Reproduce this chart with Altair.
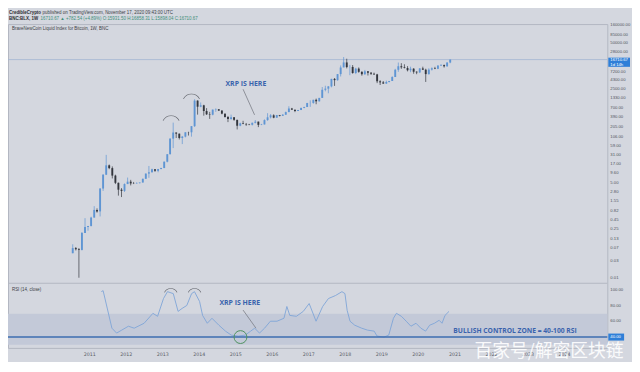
import altair as alt
import pandas as pd

# ---------------- data ----------------
months = [
    "2010-07", "2010-08", "2010-09", "2010-10", "2010-11", "2010-12",
    "2011-01", "2011-02", "2011-03", "2011-04", "2011-05", "2011-06", "2011-07", "2011-08", "2011-09", "2011-10", "2011-11", "2011-12",
    "2012-01", "2012-02", "2012-03", "2012-04", "2012-05", "2012-06", "2012-07", "2012-08", "2012-09", "2012-10", "2012-11", "2012-12",
    "2013-01", "2013-02", "2013-03", "2013-04", "2013-05", "2013-06", "2013-07", "2013-08", "2013-09", "2013-10", "2013-11", "2013-12",
    "2014-01", "2014-02", "2014-03", "2014-04", "2014-05", "2014-06", "2014-07", "2014-08", "2014-09", "2014-10", "2014-11", "2014-12",
    "2015-01", "2015-02", "2015-03", "2015-04", "2015-05", "2015-06", "2015-07", "2015-08", "2015-09", "2015-10", "2015-11", "2015-12",
    "2016-01", "2016-02", "2016-03", "2016-04", "2016-05", "2016-06", "2016-07", "2016-08", "2016-09", "2016-10", "2016-11", "2016-12",
    "2017-01", "2017-02", "2017-03", "2017-04", "2017-05", "2017-06", "2017-07", "2017-08", "2017-09", "2017-10", "2017-11", "2017-12",
    "2018-01", "2018-02", "2018-03", "2018-04", "2018-05", "2018-06", "2018-07", "2018-08", "2018-09", "2018-10", "2018-11", "2018-12",
    "2019-01", "2019-02", "2019-03", "2019-04", "2019-05", "2019-06", "2019-07", "2019-08", "2019-09", "2019-10", "2019-11", "2019-12",
    "2020-01", "2020-02", "2020-03", "2020-04", "2020-05", "2020-06", "2020-07", "2020-08", "2020-09", "2020-10", "2020-11",
]
opens = [
    0.05, 0.07, 0.065, 0.062, 0.19, 0.28,
    0.30, 0.52, 0.86, 0.78, 3.5, 8.7, 16.1, 13.4, 8.2, 5.1, 3.25, 3.0,
    4.7, 5.5, 4.9, 4.9, 5.0, 5.2, 6.65, 9.35, 10.2, 12.4, 11.2, 12.6,
    13.5, 20.4, 33.4, 93, 139, 129, 97, 106, 141, 141, 211, 1130,
    757, 830, 570, 460, 447, 625, 640, 587, 480, 387, 338, 378,
    320, 217, 254, 244, 236, 230, 263, 284, 230, 236, 314, 377,
    430, 368, 437, 416, 448, 531, 673, 624, 574, 609, 700, 742,
    963, 970, 1190, 1080, 1350, 2300, 2480, 2875, 4700, 4340, 6450, 9950,
    13860, 10220, 10330, 6930, 9240, 7490, 6390, 7730, 7030, 6620, 6320, 4020,
    3740, 3460, 3850, 4100, 5320, 8570, 10820, 10080, 9600, 8300, 9200, 7550,
    7200, 9350, 8600, 6440, 8650, 9460, 9140, 11330, 11650, 10780, 13800,
]
highs = [
    0.09, 0.075, 0.07, 0.20, 0.50, 0.30,
    0.55, 1.10, 0.95, 3.6, 9.0, 32.0, 17.0, 15.0, 8.7, 5.2, 3.6, 4.9,
    7.2, 6.2, 5.4, 5.3, 5.2, 6.7, 9.4, 15.4, 12.9, 12.5, 12.7, 13.7,
    20.8, 33.4, 95, 266, 139, 129, 111, 141, 146, 211, 1240, 1150,
    1000, 860, 690, 540, 630, 680, 650, 600, 490, 412, 450, 385,
    320, 265, 300, 260, 245, 267, 316, 284, 245, 330, 495, 465,
    460, 440, 440, 466, 550, 780, 700, 626, 613, 720, 755, 975,
    1150, 1200, 1290, 1350, 2760, 3000, 2930, 4750, 4980, 6450, 11400, 19800,
    17700, 11800, 11700, 9750, 9990, 7760, 8470, 7760, 7400, 7100, 6560, 4310,
    4100, 4200, 4120, 5600, 9100, 13800, 13200, 12300, 10900, 10500, 9500, 7750,
    9600, 10500, 9180, 9450, 10050, 10400, 11450, 12470, 12100, 14000, 16860,
]
lows = [
    0.05, 0.06, 0.01, 0.06, 0.19, 0.22,
    0.29, 0.52, 0.72, 0.56, 3.0, 8.5, 12.5, 6.8, 4.7, 2.2, 2.0, 2.8,
    4.7, 4.3, 4.7, 4.8, 4.9, 5.2, 6.6, 7.1, 10.0, 10.5, 10.2, 12.5,
    13.3, 19.6, 33.0, 50, 97, 88, 65, 101, 114, 106, 200, 450,
    730, 420, 440, 340, 430, 540, 570, 460, 370, 275, 320, 300,
    170, 210, 240, 215, 225, 220, 253, 198, 226, 236, 300, 350,
    355, 365, 400, 414, 443, 530, 610, 530, 570, 605, 685, 740,
    750, 920, 890, 1060, 1350, 2080, 1830, 2700, 2970, 4150, 5520, 10900,
    9400, 6000, 6600, 6450, 7050, 5800, 6120, 5880, 6100, 6200, 3560, 3150,
    3400, 3390, 3730, 4100, 5320, 7500, 9100, 9400, 7700, 7300, 6600, 6400,
    6900, 8500, 3850, 6200, 8150, 8930, 8950, 10980, 9900, 10400, 13200,
]
closes = [
    0.07, 0.065, 0.062, 0.19, 0.28, 0.30,
    0.52, 0.86, 0.78, 3.5, 8.7, 16.1, 13.4, 8.2, 5.1, 3.25, 3.0, 4.7,
    5.5, 4.9, 4.85, 5.0, 5.2, 6.65, 9.35, 10.2, 12.4, 11.2, 12.6, 13.5,
    20.4, 33.4, 93, 139, 129, 97, 106, 141, 140, 211, 1130, 757,
    830, 570, 460, 447, 625, 640, 587, 480, 387, 338, 378, 320,
    217, 254, 244, 236, 230, 263, 284, 230, 236, 314, 377, 430,
    368, 437, 416, 448, 531, 673, 624, 574, 609, 700, 742, 963,
    970, 1190, 1080, 1350, 2300, 2480, 2875, 4700, 4340, 6450, 9950, 13860,
    10220, 10330, 6930, 9240, 7490, 6390, 7730, 7030, 6620, 6320, 4020, 3740,
    3460, 3850, 4100, 5320, 8570, 10820, 10080, 9600, 8300, 9200, 7550, 7200,
    9350, 8600, 6440, 8650, 9460, 9140, 11330, 11650, 10780, 13800, 16710.67,
]

rsi_dates = [
    "2011-04-27", "2011-05-15", "2011-08-11", "2011-09-27", "2011-11-17", "2012-01-23", "2012-03-21",
    "2012-06-28", "2012-09-24", "2012-11-10", "2013-01-08", "2013-02-17", "2013-04-16", "2013-06-03",
    "2013-07-13", "2013-08-29", "2013-10-16", "2013-11-14", "2014-01-04", "2014-02-03", "2014-03-22",
    "2014-05-08", "2014-07-16", "2014-09-20", "2014-11-17", "2015-01-26", "2015-04-05", "2015-05-30",
    "2015-07-09", "2015-08-26", "2015-10-16", "2015-12-13", "2016-02-17", "2016-04-27", "2016-05-26",
    "2016-06-24", "2016-08-29", "2016-11-06", "2017-01-04", "2017-03-14", "2017-05-19", "2017-07-16",
    "2017-09-24", "2017-11-28", "2017-12-28", "2018-01-19", "2018-02-17", "2018-04-05", "2018-06-13",
    "2018-08-11", "2018-10-16", "2018-11-14", "2019-01-23", "2019-03-11", "2019-04-27", "2019-05-27",
    "2019-07-16", "2019-09-02", "2019-10-19", "2019-12-09", "2020-01-26", "2020-03-14", "2020-04-23",
    "2020-06-10", "2020-07-27", "2020-08-25", "2020-09-24", "2020-11-03",
]
rsi_vals = [
    98.2, 99.5, 51.4, 45.1, 48.9, 53.9, 51.4,
    57.7, 70.4, 66.6, 89.4, 98.2, 95.7, 72.9,
    76.7, 80.5, 95.7, 98.2, 85.6, 67.8, 57.7,
    64.1, 55.2, 47.6, 42.5, 41.3, 42.5, 47.6,
    51.4, 45.1, 51.4, 60.3, 60.3, 64.1, 79.2,
    67.8, 66.6, 72.9, 83.0, 60.3, 79.2, 89.4,
    93.2, 98.2, 95.7, 74.2, 60.3, 55.2, 51.4,
    48.9, 47.6, 41.3, 40.0, 42.5, 64.1, 70.4,
    66.6, 60.3, 53.9, 57.7, 51.4, 47.6, 55.2,
    57.7, 61.5, 57.7, 67.8, 72.9,
]

price_ticks = [160000, 85000, 50000, 28000, 7200, 4300, 2500, 1330, 700, 390, 205, 106,
               59, 31, 17, 9.6, 5.0, 2.8, 1.55, 0.82, 0.45, 0.25, 0.13, 0.07, 0.03, 0.01]
rsi_ticks = [100, 80, 60]
years = list(range(2011, 2025))
year_dates = [f"{y}-01-01" for y in years]

last_price = 16710.67

# annotations (data coordinates)
arc_main_dates = ["2013-03-25", "2013-10-15"]
arc_main_prices = [231, 964]
arc_rsi_dates = ["2013-03-22", "2013-11-15"]
arc_rsi_vals = [93.2, 93.2]
circle_date, circle_rsi = "2015-02-17", 40
xrp_main = ("2015-04-12", 3300)
xrp_main_arrow = ("2015-03-15", 2390, "2015-07-08", 443)
xrp_rsi = ("2015-02-10", 83)
xrp_rsi_arrow = ("2015-03-15", 74.6, "2015-07-22", 51.4)
zone_text = ("2022-08-25", 47.6)

# ---------------- layout ----------------
W, H = 607, 328
BG = "#d4d7df"
X_SCALE = alt.Scale(domain=[alt.DateTime(year=2008, month=11, date=24),
                            alt.DateTime(year=2025, month=1, date=15)])
P_SCALE = alt.Scale(type="log", domain=[0.00767, 172600], range=[261, 0])
R_SCALE = alt.Scale(domain=[26.1, 107.1], range=[328, 264])

candles = pd.DataFrame({
    "date": [m + "-15" for m in months],
    "open": opens, "high": highs, "low": lows, "close": closes,
})
candles["dir"] = ["up" if c >= o else "down" for o, c in zip(opens, closes)]
rsi_df = pd.DataFrame({"date": rsi_dates, "rsi": rsi_vals})

COLOR = alt.Color("dir:N", scale=alt.Scale(domain=["up", "down"], range=["#5f95d3", "#33363d"]), legend=None)


def X(field):
    return alt.X(f"{field}:T", scale=X_SCALE, axis=None, title=None)


# band 30-70
band = alt.Chart(pd.DataFrame({"top": [70], "bot": [30]})).mark_rect(color="#c3c9d8").encode(
    x=alt.value(0), x2=alt.value(W),
    y=alt.Y("top:Q", scale=R_SCALE, axis=None), y2="bot:Q")

sep = alt.Chart(pd.DataFrame({"a": [0]})).mark_rule(color="#b3b7c2", strokeWidth=1.2).encode(
    x=alt.value(0), x2=alt.value(W), y=alt.value(262.5))

price_line = alt.Chart(pd.DataFrame({"p": [last_price]})).mark_rule(color="#a3b6d3", strokeWidth=0.8).encode(
    x=alt.value(0), x2=alt.value(W), y=alt.Y("p:Q", scale=P_SCALE, axis=None))

wicks = alt.Chart(candles).mark_rule(strokeWidth=0.7).encode(
    x=X("date"), y=alt.Y("low:Q", scale=P_SCALE, axis=None), y2="high:Q", color=COLOR)

bodies = alt.Chart(candles).mark_bar(size=1.9).encode(
    x=X("date"), y=alt.Y("open:Q", scale=P_SCALE, axis=None), y2="close:Q", color=COLOR)

rsi_line = alt.Chart(rsi_df).mark_line(color="#7ea5d8", strokeWidth=0.9).encode(
    x=X("date"), y=alt.Y("rsi:Q", scale=R_SCALE, axis=None))

line40 = alt.Chart(pd.DataFrame({"r": [40]})).mark_rule(color="#3d6cb0", strokeWidth=1.6).encode(
    x=alt.value(0), x2=alt.value(W), y=alt.Y("r:Q", scale=R_SCALE, axis=None))

arcs_main = alt.Chart(pd.DataFrame({"date": arc_main_dates, "p": arc_main_prices})).mark_arc(
    outerRadius=9.5, innerRadius=8.8, theta=5.18, theta2=7.38, color="#5c5f66").encode(
    x=X("date"), y=alt.Y("p:Q", scale=P_SCALE, axis=None))

arcs_rsi = alt.Chart(pd.DataFrame({"date": arc_rsi_dates, "r": arc_rsi_vals})).mark_arc(
    outerRadius=7.5, innerRadius=6.8, theta=5.18, theta2=7.38, color="#5c5f66").encode(
    x=X("date"), y=alt.Y("r:Q", scale=R_SCALE, axis=None))

circle = alt.Chart(pd.DataFrame({"date": [circle_date], "r": [circle_rsi]})).mark_point(
    shape="circle", size=170, filled=False, color="#4f9160", strokeWidth=1, opacity=1).encode(
    x=X("date"), y=alt.Y("r:Q", scale=R_SCALE, axis=None))

TXT = dict(font="Open Sans", fontWeight="bold", color="#3a63ad")
xrp1 = alt.Chart(pd.DataFrame({"date": [xrp_main[0]], "p": [xrp_main[1]], "t": ["XRP IS HERE"]})).mark_text(
    fontSize=7, **TXT).encode(x=X("date"), y=alt.Y("p:Q", scale=P_SCALE, axis=None), text="t:N")
arrow1 = alt.Chart(pd.DataFrame({"d1": [xrp_main_arrow[0]], "p1": [xrp_main_arrow[1]],
                                 "d2": [xrp_main_arrow[2]], "p2": [xrp_main_arrow[3]]})).mark_rule(
    color="#7b7e86", strokeWidth=0.8).encode(
    x=X("d1"), x2="d2:T", y=alt.Y("p1:Q", scale=P_SCALE, axis=None), y2="p2:Q")

xrp2 = alt.Chart(pd.DataFrame({"date": [xrp_rsi[0]], "r": [xrp_rsi[1]], "t": ["XRP IS HERE"]})).mark_text(
    fontSize=7, **TXT).encode(x=X("date"), y=alt.Y("r:Q", scale=R_SCALE, axis=None), text="t:N")
arrow2 = alt.Chart(pd.DataFrame({"d1": [xrp_rsi_arrow[0]], "r1": [xrp_rsi_arrow[1]],
                                 "d2": [xrp_rsi_arrow[2]], "r2": [xrp_rsi_arrow[3]]})).mark_rule(
    color="#7b7e86", strokeWidth=0.8).encode(
    x=X("d1"), x2="d2:T", y=alt.Y("r1:Q", scale=R_SCALE, axis=None), y2="r2:Q")

zone = alt.Chart(pd.DataFrame({"date": [zone_text[0]], "r": [zone_text[1]],
                               "t": ["BULLISH CONTROL ZONE = 40-100 RSI"]})).mark_text(
    fontSize=6.8, **TXT).encode(x=X("date"), y=alt.Y("r:Q", scale=R_SCALE, axis=None), text="t:N")

# year labels along the bottom (time axis)
year_lbls = alt.Chart(pd.DataFrame({"date": year_dates, "t": [str(y) for y in years]})).mark_text(
    baseline="middle", fontSize=4.8, color="#5a5e68", font="DejaVu Sans").encode(
    x=X("date"), y=alt.value(H + 7), text="t:N")

# right-hand axis labels
AX = dict(align="left", baseline="middle", fontSize=4.3, font="Liberation Sans")
p_labels = alt.Chart(pd.DataFrame({"v": price_ticks, "t": [f"{v:.2f}" for v in price_ticks]})).mark_text(
    color="#50545e", **AX).encode(
    x=alt.value(W + 3), y=alt.Y("v:Q", scale=P_SCALE, axis=None), text="t:N")
r_labels = alt.Chart(pd.DataFrame({"v": rsi_ticks, "t": [f"{v:.2f}" for v in rsi_ticks]})).mark_text(
    color="#50545e", **AX).encode(
    x=alt.value(W + 3), y=alt.Y("v:Q", scale=R_SCALE, axis=None), text="t:N")

p_box = alt.Chart(pd.DataFrame({"a": [19000], "b": [10400]})).mark_rect(color="#2f7fd8").encode(
    x=alt.value(W + 1), x2=alt.value(W + 23), y=alt.Y("a:Q", scale=P_SCALE, axis=None), y2="b:Q")
p_box_txt = alt.Chart(pd.DataFrame({"v": [16500, 11900], "t": [f"{last_price:.2f}", "1d 14h"]})).mark_text(
    color="white", **AX).encode(
    x=alt.value(W + 3), y=alt.Y("v:Q", scale=P_SCALE, axis=None), text="t:N")
r_box = alt.Chart(pd.DataFrame({"a": [44.5], "b": [35.5]})).mark_rect(color="#2f7fd8").encode(
    x=alt.value(W + 1), x2=alt.value(W + 17), y=alt.Y("a:Q", scale=R_SCALE, axis=None), y2="b:Q")
r_box_txt = alt.Chart(pd.DataFrame({"v": [40], "t": ["40.00"]})).mark_text(
    color="white", **AX).encode(
    x=alt.value(W + 3), y=alt.Y("v:Q", scale=R_SCALE, axis=None), text="t:N")


# header / panel labels
def label(txt, x, y, size=4.5, color="#3c3f46", weight="normal", align="left", font="Liberation Sans", opacity=1.0):
    return alt.Chart(pd.DataFrame({"t": [txt]})).mark_text(
        align=align, baseline="middle", fontSize=size, color=color, fontWeight=weight, font=font,
        opacity=opacity).encode(x=alt.value(x), y=alt.value(y), text="t:N")


hdr1a = label("CredibleCrypto", 1, -11, weight="bold", color="#2a2d33")
hdr1b = label("published on TradingView.com, November 17, 2020 09:43:00 UTC", 35, -11)
hdr2a = label("BNC:BLX, 1W", 1, -5, weight="bold", color="#2a2d33")
hdr2b = label("16710.67 \u25b2 +782.54 (+4.89%)  O:15931.50  H:16858.31  L:15898.04  C:16710.67", 33, -5,
              color="#3f8f7a")
panel_lbl = label("BraveNewCoin Liquid Index for Bitcoin, 1W, BNC", 4, 5)
rsi_lbl = label("RSI (14, close)", 4, 269)
watermark = label("百家号/解密区块链", 548, 332, size=18, color="white", align="center",
                  font="Noto Sans CJK SC", opacity=0.9)

chart = alt.layer(
    band, sep, price_line, wicks, bodies, rsi_line, line40,
    arcs_main, arcs_rsi, circle, arrow1, xrp1, arrow2, xrp2, zone, year_lbls,
    p_labels, r_labels, p_box, p_box_txt, r_box, r_box_txt,
    hdr1a, hdr1b, hdr2a, hdr2b, panel_lbl, rsi_lbl, watermark,
).resolve_scale(y="independent").properties(
    width=W, height=H,
    autosize=alt.AutoSizeParams(type="none"),
    padding={"left": 0, "top": 14, "right": 25, "bottom": 12},
    background=BG,
).configure_view(stroke="#b3b7c2", strokeWidth=1)

chart.save("out.html", embed_options={"renderer": "svg", "actions": False})
